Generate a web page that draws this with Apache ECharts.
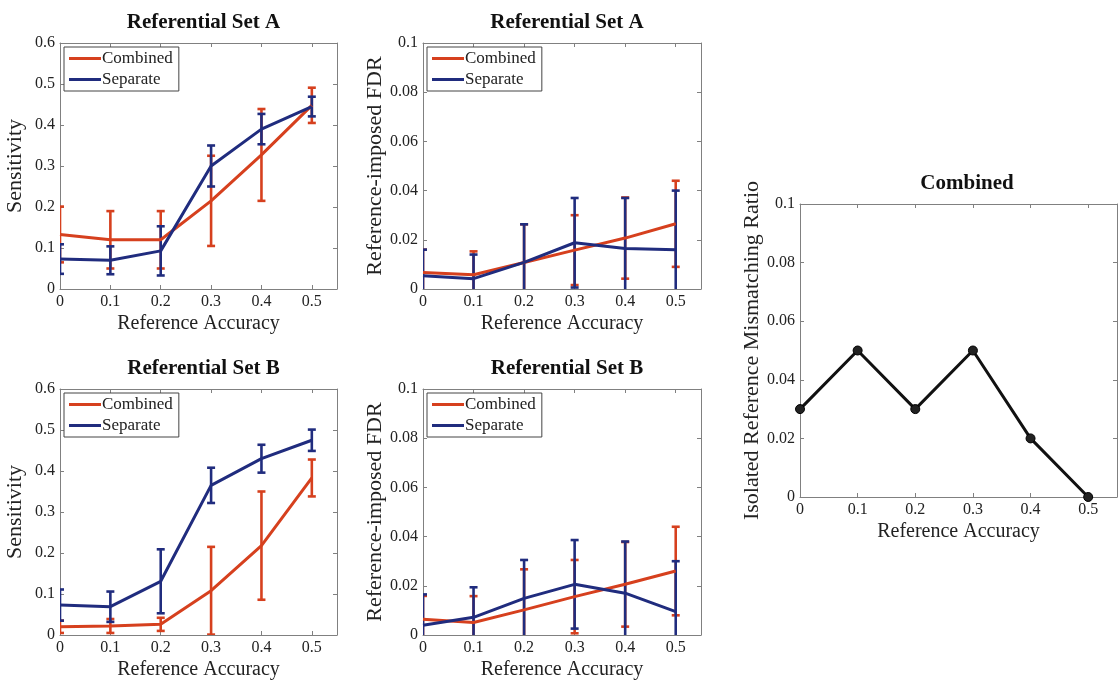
<!DOCTYPE html>
<html>
<head>
<meta charset="utf-8">
<title>Referential Sets</title>
<script src="https://cdn.jsdelivr.net/npm/echarts@6/dist/echarts.min.js"></script>
<style>
  html, body { margin: 0; padding: 0; background: #fff; }
  #main { width: 1120px; height: 681px; }
</style>
</head>
<body>
<div id="main"></div>
<script>
// Reference accuracy (x values shared by every panel)
const accuracy = [0, 0.1, 0.2, 0.3, 0.4, 0.5]

// Referential Set A - Sensitivity
const sensACombined = [0.133, 0.12, 0.12, 0.215, 0.327, 0.448]
const sensACombinedErr = [0.068, 0.07, 0.07, 0.11, 0.112, 0.043]
const sensASeparate = [0.073, 0.07, 0.093, 0.3, 0.39, 0.445]
const sensASeparateErr = [0.036, 0.034, 0.06, 0.05, 0.037, 0.024]

// Referential Set A - Reference-imposed FDR
const fdrACombined = [0.0067, 0.0058, 0.0108, 0.0158, 0.0207, 0.0265]
const fdrACombinedErr = [0.0093, 0.0095, 0.0155, 0.0142, 0.0165, 0.0175]
const fdrASeparate = [0.0054, 0.0042, 0.0108, 0.0188, 0.0165, 0.016]
const fdrASeparateErr = [0.0106, 0.0098, 0.0155, 0.0182, 0.0205, 0.024]

// Referential Set B - Sensitivity
const sensBCombined = [0.02, 0.022, 0.026, 0.108, 0.218, 0.383]
const sensBCombinedErr = [0.015, 0.017, 0.016, 0.107, 0.132, 0.045]
const sensBSeparate = [0.073, 0.069, 0.131, 0.365, 0.43, 0.475]
const sensBSeparateErr = [0.038, 0.037, 0.078, 0.043, 0.034, 0.026]

// Referential Set B - Reference-imposed FDR
const fdrBCombined = [0.0064, 0.0051, 0.0102, 0.0156, 0.0206, 0.026]
const fdrBCombinedErr = [0.0095, 0.0107, 0.0165, 0.0149, 0.0172, 0.018]
const fdrBSeparate = [0.004, 0.0072, 0.0149, 0.0206, 0.017, 0.0095]
const fdrBSeparateErr = [0.0125, 0.0122, 0.0156, 0.018, 0.021, 0.0205]

// Combined - isolated reference mismatching ratio
const mismatchRatio = [0.03, 0.05, 0.03, 0.05, 0.02, 0]

const RED = '#d6401e'
const BLUE = '#202c7e'
const FONT = '"Liberation Serif", "DejaVu Serif", serif'
const FRAME = '#808080'

// panel layout: [left, top, width, height]
const panels = [
  { box: [60, 43, 277, 246], title: 'Referential Set A', yName: 'Sensitivity', yMax: 0.6, yStep: 0.1, nameGap: 34 },
  { box: [423, 43, 278, 246], title: 'Referential Set A', yName: 'Reference-imposed FDR', yMax: 0.1, yStep: 0.02, nameGap: 37 },
  { box: [60, 389, 277, 246], title: 'Referential Set B', yName: 'Sensitivity', yMax: 0.6, yStep: 0.1, nameGap: 34 },
  { box: [423, 389, 278, 246], title: 'Referential Set B', yName: 'Reference-imposed FDR', yMax: 0.1, yStep: 0.02, nameGap: 37 },
  { box: [800, 204, 325, 293], title: 'Combined', yName: 'Isolated Reference Mismatching Ratio', yMax: 0.1, yStep: 0.02, nameGap: 37 }
]

const pairs = (ys) => accuracy.map((x, i) => [x, ys[i]])
const bars = (ys, errs) => accuracy.map((x, i) => [x, ys[i] - errs[i], ys[i] + errs[i]])

// draws one vertical error bar with caps
function renderErrorBar(params, api) {
  const x = api.value(0)
  const lo = api.coord([x, api.value(1)])
  const hi = api.coord([x, api.value(2)])
  const w = 4
  const style = { stroke: api.visual('color'), lineWidth: 2.6 }
  return {
    type: 'group',
    children: [
      { type: 'line', shape: { x1: lo[0], y1: lo[1], x2: hi[0], y2: hi[1] }, style: style },
      { type: 'line', shape: { x1: hi[0] - w, y1: hi[1], x2: hi[0] + w, y2: hi[1] }, style: style },
      { type: 'line', shape: { x1: lo[0] - w, y1: lo[1], x2: lo[0] + w, y2: lo[1] }, style: style }
    ]
  }
}

function tickText(step) {
  return function(v) {
    const k = v / step
    if (Math.abs(k - Math.round(k)) > 1e-6) return ''
    return String(+v.toFixed(3))
  }
}

const grid = []
const xAxis = []
const yAxis = []
const title = []
const legend = []
const series = []

panels.forEach((p, i) => {
  const [left, top, width, height] = p.box
  grid.push({ left: left, top: top, width: width, height: height, show: false })

  const tick = { show: true, inside: true, length: 4, lineStyle: { color: FRAME } }
  const line = { show: true, onZero: false, lineStyle: { color: FRAME, width: 1 } }
  const label = { color: '#222', fontFamily: FONT, fontSize: 16, margin: 5 }

  // bottom / left axes with labels
  xAxis.push({
    type: 'value', gridIndex: i, min: 0, max: 0.55, interval: 0.1,
    name: 'Reference Accuracy', nameLocation: 'middle', nameGap: 25,
    nameTextStyle: { fontFamily: FONT, fontSize: 20, color: '#222' },
    axisLine: line, axisTick: tick, splitLine: { show: false },
    axisLabel: Object.assign({ formatter: tickText(0.1) }, label)
  })
  yAxis.push({
    type: 'value', gridIndex: i, min: 0, max: p.yMax, interval: p.yStep,
    name: p.yName, nameLocation: 'middle', nameGap: p.nameGap,
    nameTextStyle: { fontFamily: FONT, fontSize: 22, color: '#222' },
    axisLine: line, axisTick: tick, splitLine: { show: false },
    axisLabel: Object.assign({ formatter: tickText(p.yStep) }, label)
  })
  // top / right axes only close the box
  xAxis.push({
    type: 'value', gridIndex: i, position: 'top', min: 0, max: 0.55, interval: 0.1,
    axisLine: line, axisTick: tick, axisLabel: { show: false }, splitLine: { show: false }
  })
  yAxis.push({
    type: 'value', gridIndex: i, position: 'right', min: 0, max: p.yMax, interval: p.yStep,
    axisLine: line, axisTick: tick, axisLabel: { show: false }, splitLine: { show: false }
  })

  title.push({
    text: p.title, left: left + width / 2, top: top - 36, textAlign: 'center',
    textStyle: { fontFamily: FONT, fontSize: 21, fontWeight: 'bold', color: '#111' }
  })
})
// keep the right panel title centred on the visible part of its box
title[4].left = 962

// legends in the four upper-left corners
panels.slice(0, 4).forEach((p) => {
  legend.push({
    data: ['Combined', 'Separate'],
    orient: 'vertical', left: p.box[0] + 4, top: p.box[1] + 4,
    icon: 'rect', itemWidth: 32, itemHeight: 3, itemGap: 4,
    padding: [3, 6, 3, 5], borderColor: '#444', borderWidth: 1, backgroundColor: '#fff',
    textStyle: { fontFamily: FONT, fontSize: 17, color: '#222', padding: [0, 0, 0, -4] }
  })
})

const panelData = [
  [sensACombined, sensACombinedErr, sensASeparate, sensASeparateErr],
  [fdrACombined, fdrACombinedErr, fdrASeparate, fdrASeparateErr],
  [sensBCombined, sensBCombinedErr, sensBSeparate, sensBSeparateErr],
  [fdrBCombined, fdrBCombinedErr, fdrBSeparate, fdrBSeparateErr]
]

panelData.forEach((d, i) => {
  const axes = { xAxisIndex: i * 2, yAxisIndex: i * 2 }
  const groups = [['Combined', RED, d[0], d[1]], ['Separate', BLUE, d[2], d[3]]]
  groups.forEach(([name, color, ys, errs]) => {
    series.push(Object.assign({
      type: 'custom', name: name + ' error', clip: true,
      itemStyle: { color: color }, renderItem: renderErrorBar,
      encode: { x: 0, y: [1, 2] }, data: bars(ys, errs)
    }, axes))
    series.push(Object.assign({
      type: 'line', name: name, symbol: 'none',
      itemStyle: { color: color }, lineStyle: { color: color, width: 3 },
      data: pairs(ys)
    }, axes))
  })
})

series.push({
  type: 'line', name: 'Mismatch', xAxisIndex: 8, yAxisIndex: 8,
  symbol: 'circle', symbolSize: 9, clip: false,
  itemStyle: { color: '#222', borderColor: '#000', borderWidth: 1 },
  lineStyle: { color: '#111', width: 3 },
  data: pairs(mismatchRatio)
})

const chart = echarts.init(document.getElementById('main'))
chart.setOption({
  animation: false,
  backgroundColor: '#fff',
  title: title,
  legend: legend,
  grid: grid,
  xAxis: xAxis,
  yAxis: yAxis,
  series: series
})
</script>
</body>
</html>
